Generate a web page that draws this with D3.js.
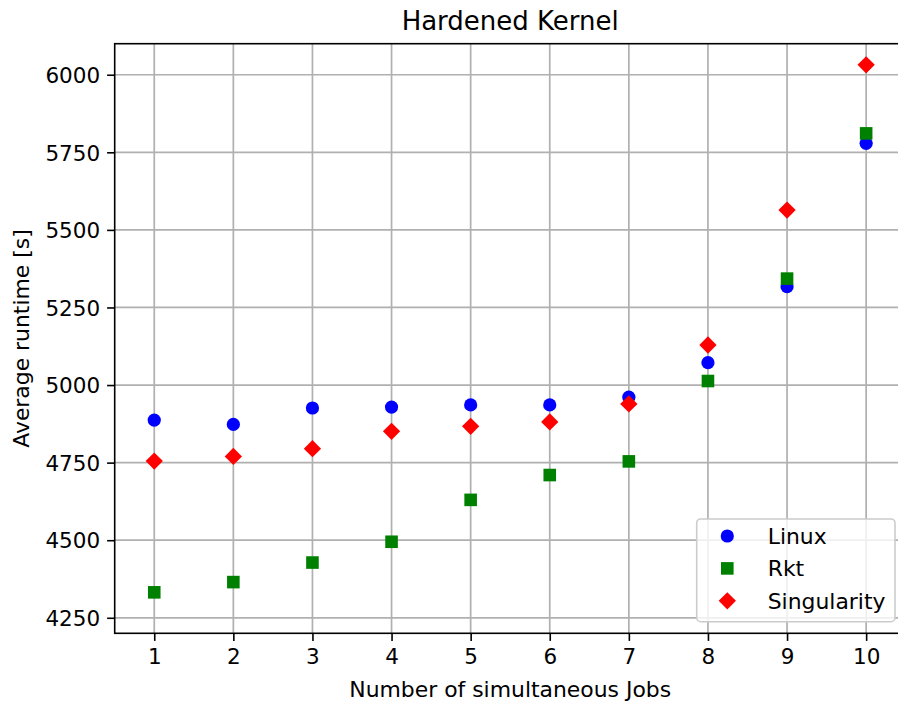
<!DOCTYPE html>
<html>
<head>
<meta charset="utf-8">
<script src="https://cdn.jsdelivr.net/npm/d3@7"></script>
<style>
  html, body { margin: 0; padding: 0; background: #fff; }
  svg { display: block; font-family: "DejaVu Sans", sans-serif; }
  .tick text { font-size: 21.5px; fill: #000; }
</style>
</head>
<body>
<svg id="chart" width="898" height="702"></svg>
<script>
// data
const jobs = [1, 2, 3, 4, 5, 6, 7, 8, 9, 10];
const linux = [4887, 4873, 4926, 4929, 4936, 4936, 4961, 5072, 5317, 5779];
const rkt = [4332, 4365, 4428, 4495, 4630, 4710, 4754, 5013, 5343, 5811];
const singularity = [4755, 4770, 4795, 4851, 4867, 4881, 4939, 5129, 5564, 6032];
const yTicks = [4250, 4500, 4750, 5000, 5250, 5500, 5750, 6000];

const svg = d3.select("#chart");
const margin = { left: 114.7, top: 43.7 };
const width = 791, height = 589.6;

const x = d3.scaleLinear().domain([0.5, 10.5]).range([0, width]);
const y = d3.scaleLinear().domain([4200, 6100]).range([height, 0]);

const g = svg.append("g").attr("transform", `translate(${margin.left},${margin.top})`);

// grid
g.append("g")
  .selectAll("line")
  .data(jobs)
  .join("line")
  .attr("x1", d => x(d)).attr("x2", d => x(d))
  .attr("y1", 0).attr("y2", height)
  .attr("stroke", "#b0b0b0").attr("stroke-width", 1.7);
g.append("g")
  .selectAll("line")
  .data(yTicks)
  .join("line")
  .attr("x1", 0).attr("x2", width)
  .attr("y1", d => y(d)).attr("y2", d => y(d))
  .attr("stroke", "#b0b0b0").attr("stroke-width", 1.7);

// axes
const xAxis = g.append("g")
  .attr("transform", `translate(0,${height})`)
  .call(d3.axisBottom(x).tickValues(jobs).tickFormat(d3.format("d")).tickSize(7.6).tickPadding(7).tickSizeOuter(0));
const yAxis = g.append("g")
  .call(d3.axisLeft(y).tickValues(yTicks).tickFormat(d3.format("d")).tickSize(7.6).tickPadding(7).tickSizeOuter(0));
[xAxis, yAxis].forEach(a => {
  a.select(".domain").remove();
  a.selectAll(".tick line").attr("stroke", "#000").attr("stroke-width", 1.6);
  a.selectAll(".tick text").attr("font-family", "DejaVu Sans").attr("font-size", 21.7);
});
xAxis.selectAll(".tick text").attr("dy", "0.74em");
yAxis.selectAll(".tick text").attr("dy", "0.36em");

// spines
g.append("rect")
  .attr("width", width).attr("height", height)
  .attr("fill", "none").attr("stroke", "#000").attr("stroke-width", 1.6);

const series = [
  { name: "Linux", values: linux, color: "#0000ff", shape: d3.symbolCircle, size: Math.PI * 6.6 * 6.6 },
  { name: "Rkt", values: rkt, color: "#008000", shape: d3.symbolSquare, size: 12.6 * 12.6 },
  { name: "Singularity", values: singularity, color: "#ff0000", shape: d3.symbolDiamond2, size: 13.8 * 13.8 },
];

// markers
series.forEach(s => {
  g.append("g")
    .selectAll("path")
    .data(jobs)
    .join("path")
    .attr("transform", (d, i) => `translate(${x(d)},${y(s.values[i])})`)
    .attr("d", d3.symbol(s.shape, s.size))
    .attr("fill", s.color);
});

// labels
svg.append("text")
  .attr("x", margin.left + width / 2).attr("y", 29.5)
  .attr("text-anchor", "middle").attr("font-size", 26)
  .text("Hardened Kernel");
svg.append("text")
  .attr("x", margin.left + width / 2).attr("y", 697)
  .attr("text-anchor", "middle").attr("font-size", 21.9)
  .text("Number of simultaneous Jobs");
svg.append("text")
  .attr("transform", `translate(29,${margin.top + height / 2}) rotate(-90)`)
  .attr("text-anchor", "middle").attr("font-size", 21.9)
  .text("Average runtime [s]");

// legend
const legend = svg.append("g");
legend.append("rect")
  .attr("x", 696.7).attr("y", 519).attr("width", 198.3).attr("height", 102.7)
  .attr("rx", 4).attr("fill", "#fff").attr("fill-opacity", 0.8)
  .attr("stroke", "#cccccc").attr("stroke-width", 1.6);
const entry = legend.selectAll("g.entry")
  .data(series)
  .join("g")
  .attr("class", "entry")
  .attr("transform", (d, i) => `translate(727.3,${536 + i * 32.4})`);
entry.append("path")
  .attr("d", d => d3.symbol(d.shape, d.size)())
  .attr("fill", d => d.color);
entry.append("text")
  .attr("x", 40.4).attr("dy", "0.36em")
  .attr("font-size", 21.9)
  .text(d => d.name);
</script>
</body>
</html>
